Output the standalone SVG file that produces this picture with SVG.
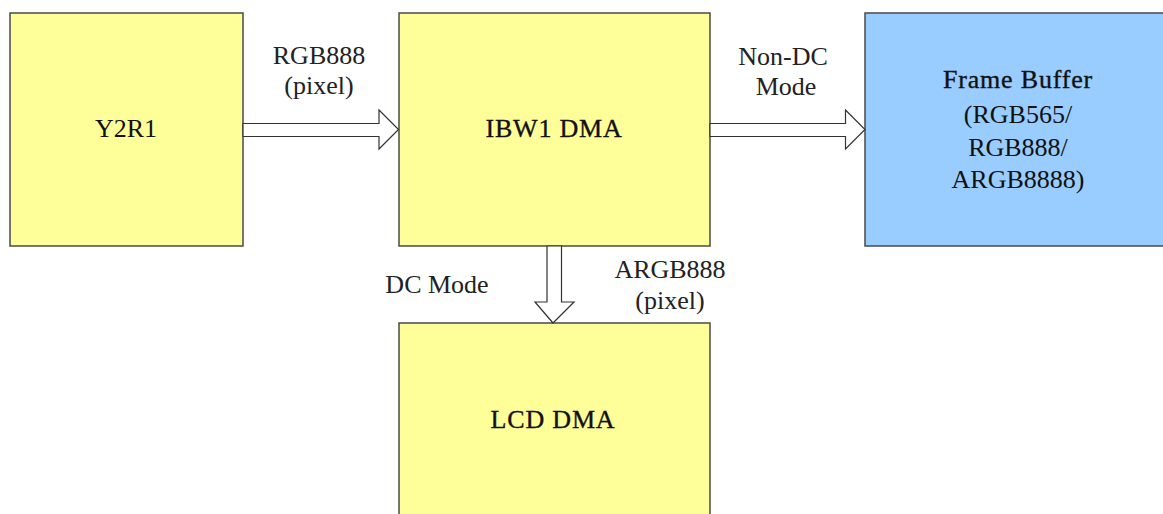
<svg xmlns="http://www.w3.org/2000/svg" width="1163" height="514" viewBox="0 0 1163 514">
<style>
.box{stroke:#4a4a4a;stroke-width:1.5}
.y{fill:#FFFF99}
.b{fill:#99CCFF}
.arr{fill:#ffffff;stroke:#333333;stroke-width:1.2}
text{font-family:"Liberation Serif","Times New Roman",serif;font-size:26px;fill:#111111;text-anchor:middle}
.hv{stroke:#111111;stroke-width:0.35;letter-spacing:0.8px}
.lbl{fill:#222222}
</style>
<rect width="1163" height="514" fill="#ffffff"/>
<g id="y2r1">
<rect class="box y" x="10" y="13" width="233" height="233"/>
<text x="126" y="137">Y2R1</text>
</g>
<g id="ibw1">
<rect class="box y" x="399" y="13" width="311" height="233"/>
<text class="hv" x="554" y="137">IBW1 DMA</text>
</g>
<g id="framebuffer">
<rect class="box b" x="865" y="13" width="310" height="233"/>
<text class="hv" x="1018" y="88">Frame Buffer</text>
<text x="1018" y="123">(RGB565/</text>
<text x="1018" y="156">RGB888/</text>
<text x="1018" y="188">ARGB8888)</text>
</g>
<g id="lcddma">
<rect class="box y" x="399" y="323" width="311" height="200"/>
<text class="hv" x="553" y="428">LCD DMA</text>
</g>
<g id="connectors">
<polygon class="arr" points="243,123.5 379,123.5 379,110 398.5,129.5 379,149 379,136.5 243,136.5"/>
<polygon class="arr" points="710,123.5 845.5,123.5 845.5,110 865,129.5 845.5,149 845.5,136.5 710,136.5"/>
<polygon class="arr" points="547,246 561.5,246 561.5,302 574,302 553,323 535,302 547,302"/>
<text class="lbl" x="319" y="64">RGB888</text>
<text class="lbl" x="319" y="94">(pixel)</text>
<text class="lbl" x="783" y="65">Non-DC</text>
<text class="lbl" x="786" y="95">Mode</text>
<text class="lbl" x="437" y="293">DC Mode</text>
<text class="lbl" x="670" y="278">ARGB888</text>
<text class="lbl" x="670" y="309">(pixel)</text>
</g>
</svg>
